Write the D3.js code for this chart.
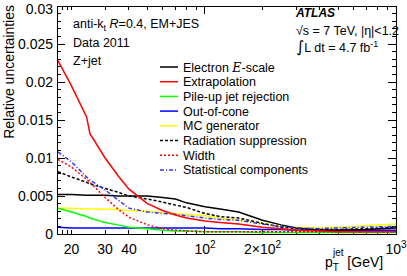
<!DOCTYPE html>
<html>
<head>
<meta charset="utf-8">
<script src="https://cdn.jsdelivr.net/npm/d3@7"></script>
<style>
  body { margin: 0; background: #fff; }
  svg { font-family: "Liberation Sans", Arial, sans-serif; }
</style>
</head>
<body>
<div id="app"></div>
<script>
const W = 407, H = 276
const margin = { top: 6, right: 11, bottom: 42, left: 57 }

// jet pT points (GeV)
const pt = [17, 20, 24, 25, 30, 35, 40, 50, 60, 70, 80, 100, 120, 150, 200, 250, 300, 400, 500, 700, 1000]

const electronEScale = [0.0052, 0.0052, 0.0051, 0.0051, 0.0051, 0.0050, 0.0050, 0.0050, 0.0048, 0.0046, 0.0041, 0.0036, 0.0033, 0.0029, 0.0018, 0.0012, 0.0008, 0.0005, 0.0005, 0.0006, 0.0008]
const extrapolation = [0.0228, 0.0195, 0.0154, 0.0132, 0.0100, 0.0077, 0.0059, 0.0040, 0.0031, 0.0025, 0.0021, 0.0017, 0.0015, 0.0013, 0.0009, 0.0007, 0.0005, 0.0004, 0.0003, 0.0003, 0.0003]
const pileUp = [0.0034, 0.0029, 0.0023, 0.0021, 0.0015, 0.0012, 0.0009, 0.0007, 0.0005, 0.0004, 0.0004, 0.0003, 0.0003, 0.0003, 0.0002, 0.0002, 0.0002, 0.0002, 0.0002, 0.0002, 0.0002]
const outOfCone = [0.0009, 0.0008, 0.0008, 0.0008, 0.0008, 0.0008, 0.0008, 0.0008, 0.0008, 0.0008, 0.0008, 0.0008, 0.0007, 0.0007, 0.0006, 0.0006, 0.0005, 0.0005, 0.0005, 0.0005, 0.0005]
const mcGenerator = [0.0034, 0.0034, 0.0033, 0.0033, 0.0033, 0.0032, 0.0031, 0.0030, 0.0028, 0.0027, 0.0026, 0.0024, 0.0021, 0.0018, 0.0014, 0.0010, 0.0009, 0.0008, 0.0009, 0.0011, 0.0013]
const radiation = [0.0082, 0.0075, 0.0068, 0.0066, 0.0060, 0.0055, 0.0050, 0.0046, 0.0042, 0.0038, 0.0035, 0.0027, 0.0023, 0.0021, 0.0014, 0.0009, 0.0007, 0.0006, 0.0006, 0.0007, 0.0009]
const width = [0.0098, 0.0088, 0.0072, 0.0068, 0.0048, 0.0033, 0.0022, 0.0012, 0.0007, 0.0005, 0.0004, 0.0003, 0.0003, 0.0003, 0.0003, 0.0003, 0.0003, 0.0003, 0.0003, 0.0003, 0.0003]
const statistical = [0.0108, 0.0095, 0.0075, 0.0071, 0.0058, 0.0045, 0.0034, 0.0029, 0.0027, 0.0026, 0.0024, 0.0021, 0.0019, 0.0018, 0.0013, 0.0010, 0.0008, 0.0007, 0.0008, 0.0009, 0.0010]

const seriesNames = ["Electron E-scale", "Extrapolation", "Pile-up jet rejection", "Out-of-cone", "MC generator", "Radiation suppression", "Width", "Statistical components"]
const seriesValues = [electronEScale, extrapolation, pileUp, outOfCone, mcGenerator, radiation, width, statistical]
const seriesColors = ["#000000", "#ff0000", "#00ff00", "#0000ff", "#ffff00", "#000000", "#ff0000", "#3333ff"]
const seriesDash = [null, null, null, null, null, "3,2", "2,2", "4,2,1,2"]

const yTicks = [0, 0.005, 0.01, 0.015, 0.02, 0.025, 0.03]
const xMajor = [100, 1000]
const xLabelled = [20, 30, 40, 100, 200, 1000]

const x = d3.scaleLog().domain([16.8, 1000]).range([margin.left, W - margin.right])
const y = d3.scaleLinear().domain([0, 0.03]).range([H - margin.bottom, margin.top])

const svg = d3.select("#app").append("svg").attr("width", W).attr("height", H)

const xMinor = d3.range(18, 100).filter(v => v % 10 === 0 || v < 20)
    .concat(d3.range(200, 1000, 100))
const yMinor = d3.range(0, 0.0301, 0.001)

// ticks, all pointing into the frame
const g = svg.append("g").attr("stroke", "#000").attr("shape-rendering", "crispEdges")
const yb = y(0), yt = y(0.03), xl = x.range()[0], xr = x.range()[1]
xMinor.concat(xMajor).forEach(v => {
    const len = xMajor.includes(v) ? 8 : 4
    g.append("line").attr("x1", x(v)).attr("x2", x(v)).attr("y1", yb).attr("y2", yb - len)
    g.append("line").attr("x1", x(v)).attr("x2", x(v)).attr("y1", yt).attr("y2", yt + len)
})
yMinor.forEach((v, i) => {
    const len = i % 5 === 0 ? 8 : 4
    g.append("line").attr("x1", xl).attr("x2", xl + len).attr("y1", y(v)).attr("y2", y(v))
    g.append("line").attr("x1", xr).attr("x2", xr - len).attr("y1", y(v)).attr("y2", y(v))
})

// curves
const line = d3.line().x((d, i) => x(pt[i])).y(d => y(d))
const clip = svg.append("clipPath").attr("id", "clip").append("rect")
    .attr("x", xl).attr("y", yt).attr("width", xr - xl).attr("height", yb - yt)
const order = [4, 3, 2, 0, 5, 7, 6, 1]
svg.append("g").attr("clip-path", "url(#clip)")
    .selectAll("path").data(order).join("path")
    .attr("d", i => line(seriesValues[i]))
    .attr("fill", "none")
    .attr("stroke", i => seriesColors[i])
    .attr("stroke-width", 1.5)
    .attr("stroke-dasharray", i => seriesDash[i])

// frame
svg.append("rect").attr("x", xl).attr("y", yt).attr("width", xr - xl).attr("height", yb - yt)
    .attr("fill", "none").attr("stroke", "#000").attr("shape-rendering", "crispEdges")

// y tick labels (top one nudged down so it stays inside the page)
svg.append("g").attr("font-size", 14).attr("text-anchor", "end")
    .selectAll("text").data(yTicks).join("text")
    .attr("x", xl - 4).attr("y", d => Math.max(y(d), 9)).attr("dy", "0.36em")
    .text(d => d === 0 ? "0" : String(+d.toFixed(3)))

// x tick labels
const xl_g = svg.append("g").attr("font-size", 14).attr("text-anchor", "middle")
xLabelled.forEach(v => {
    const t = xl_g.append("text").attr("x", x(v)).attr("y", 254)
    if (v < 100) t.text(v)
    else {
        const e = Math.round(Math.log10(v))
        const m = v / Math.pow(10, e)
        t.append("tspan").text(m === 1 ? "10" : m + "\u00d710")
        t.append("tspan").attr("dy", -6).attr("font-size", 10).text(e)
    }
})

// axis titles
svg.append("text").attr("transform", `translate(14,${yt - 1}) rotate(-90)`)
    .attr("text-anchor", "end").attr("font-size", 14).text("Relative uncertainties")
const xt = svg.append("text").attr("x", 325).attr("y", 267).attr("font-size", 14)
xt.append("tspan").text("p")
xt.append("tspan").attr("dy", 4).attr("font-size", 10).text("T")
xt.append("tspan").attr("dx", -6).attr("dy", -15).attr("font-size", 10).text("jet")
xt.append("tspan").attr("dy", 11).text(" [GeV]")

// info text
const info = svg.append("g").attr("font-size", 12.5)
const t1 = info.append("text").attr("x", 73).attr("y", 28)
t1.append("tspan").text("anti-k")
t1.append("tspan").attr("dy", 3).attr("font-size", 9).text("t")
t1.append("tspan").attr("dy", -3).text(" ")
t1.append("tspan").attr("font-style", "italic").text("R")
t1.append("tspan").text("=0.4, EM+JES")
info.append("text").attr("x", 73).attr("y", 47).text("Data 2011")
info.append("text").attr("x", 73).attr("y", 65).text("Z+jet")

info.append("text").attr("x", 296).attr("y", 17).attr("font-weight", "bold")
    .attr("font-style", "italic").attr("font-size", 12).text("ATLAS")
info.append("text").attr("x", 296).attr("y", 35).text("\u221as = 7 TeV, |\u03b7|<1.2")
const lum = info.append("text").attr("x", 296).attr("y", 52)
lum.append("tspan").attr("font-size", 16).attr("font-family", "DejaVu Sans").text("\u222b")
lum.append("tspan").text("L dt = 4.7 fb")
lum.append("tspan").attr("dy", -5).attr("font-size", 9).text("-1")

// legend
const leg = svg.append("g").attr("font-size", 12.5)
seriesNames.forEach((name, i) => {
    const ly = 67 + i * 14.7
    leg.append("line").attr("x1", 160).attr("x2", 178).attr("y1", ly).attr("y2", ly)
        .attr("stroke", seriesColors[i]).attr("stroke-width", 1.5)
        .attr("stroke-dasharray", seriesDash[i])
    const t = leg.append("text").attr("x", 183).attr("y", ly + 4.5)
    if (i === 0) {
        t.append("tspan").text("Electron ")
        t.append("tspan").attr("font-family", "DejaVu Serif").attr("font-style", "italic").text("E")
        t.append("tspan").text("-scale")
    } else t.text(name)
})
</script>
</body>
</html>
